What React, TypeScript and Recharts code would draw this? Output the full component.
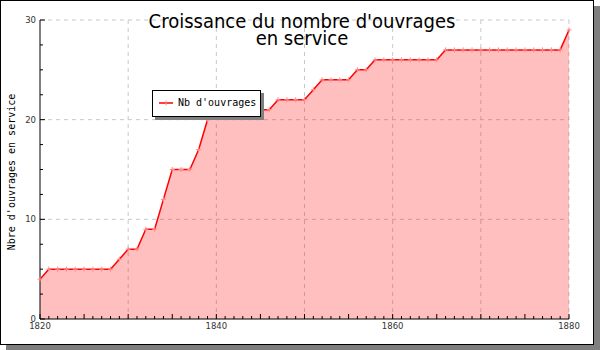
import { ComposedChart, Area, XAxis, YAxis, CartesianGrid } from 'recharts'

const START_YEAR = 1820
// nombre d'ouvrages en service, un point par an (1820 -> 1880)
const counts = [
  4, 5, 5, 5, 5, 5, 5, 5, 5, 6,
  7, 7, 9, 9, 12, 15, 15, 15, 17, 20,
  21, 21, 21, 21, 21, 21, 21, 22, 22, 22,
  22, 23, 24, 24, 24, 24, 25, 25, 26, 26,
  26, 26, 26, 26, 26, 26, 27, 27, 27, 27,
  27, 27, 27, 27, 27, 27, 27, 27, 27, 27,
  29,
]
const years = counts.map((_, i) => START_YEAR + i)

const X_LABELS = [1820, 1840, 1860, 1880]
const X_GRID = [1830, 1840, 1850, 1860, 1870, 1880]
const Y_TICKS = [0, 2.5, 5, 7.5, 10, 12.5, 15, 17.5, 20, 22.5, 25, 27.5, 30]
const Y_LABELS = [0, 10, 20, 30]
const Y_GRID = [10, 20, 30]

const TITLE = ["Croissance du nombre d'ouvrages", 'en service']
const Y_TITLE = "Nbre d'ouvrages en service"
const SERIES_NAME = "Nb d'ouvrages"

const data = years.map((year, i) => ({ year, count: counts[i] }))

const MONO = '"DejaVu Sans Mono", monospace'
const SANS = '"DejaVu Sans", sans-serif'

function PlusDot(props: any) {
  const { cx, cy, index } = props
  if (cx == null || cy == null) return <g key={`d-${index}`} />
  return (
    <g key={`d-${index}`} stroke="#ff8a8a" strokeWidth={1}>
      <line x1={cx - 2.5} y1={cy} x2={cx + 2.5} y2={cy} />
      <line x1={cx} y1={cy - 2.5} x2={cx} y2={cy + 2.5} />
    </g>
  )
}

function XTick(props: any) {
  const { x, y, payload } = props
  const v = payload.value
  const len = v % 10 === 0 ? 5 : v % 5 === 0 ? 5 : 3
  return (
    <g>
      <line x1={x} y1={y} x2={x} y2={y - len} stroke="#000" />
      {X_LABELS.includes(v) && (
        <text x={x} y={y + 10} textAnchor="middle" fontSize={8.5} fontFamily={SANS} fill="#333">
          {v}
        </text>
      )}
    </g>
  )
}

function YTick(props: any) {
  const { x, y, payload } = props
  const v = payload.value
  const len = v % 10 === 0 ? 5 : 3
  return (
    <g>
      <line x1={x} y1={y} x2={x + len} y2={y} stroke="#000" />
      {Y_LABELS.includes(v) && (
        <text x={x - 4} y={y + 3} textAnchor="end" fontSize={8.5} fontFamily={SANS} fill="#333">
          {v}
        </text>
      )}
    </g>
  )
}

export default function App() {
  return (
    <div style={{ position: 'absolute', left: 0, top: 0, width: 600, height: 350 }}>
      <div
        style={{
          position: 'absolute',
          left: 0,
          top: 0,
          width: 594,
          height: 345,
          boxSizing: 'border-box',
          border: '1px solid #000',
          background: '#fff',
          boxShadow: '6px 6px 0 #7f7f7f',
        }}
      />
      <div style={{ position: 'absolute', left: 0, top: 0 }}>
        <ComposedChart
          width={600}
          height={350}
          data={data}
          margin={{ top: 20, right: 31, bottom: 0, left: 0 }}
        >
          <CartesianGrid
            stroke="#c8c8c8"
            strokeDasharray="4 4"
            horizontalValues={Y_GRID}
            verticalValues={X_GRID}
          />
          <Area
            type="linear"
            dataKey="count"
            name={SERIES_NAME}
            stroke="#ff0000"
            strokeWidth={1.5}
            fill="#ff0000"
            fillOpacity={0.25}
            dot={PlusDot}
            activeDot={false}
            isAnimationActive={false}
          />
          <XAxis
            dataKey="year"
            type="number"
            domain={[1820, 1880]}
            ticks={years}
            interval={0}
            height={31}
            tickSize={0}
            tickMargin={0}
            tickLine={false}
            axisLine={{ stroke: '#000' }}
            tick={<XTick />}
          />
          <YAxis
            type="number"
            domain={[0, 30]}
            ticks={Y_TICKS}
            interval={0}
            width={40}
            tickSize={0}
            tickMargin={0}
            tickLine={false}
            axisLine={{ stroke: '#000' }}
            tick={<YTick />}
            label={{
              content: () => (
                <text
                  x={11}
                  y={172}
                  transform="rotate(-90 11 172)"
                  textAnchor="middle"
                  dominantBaseline="central"
                  fontSize={10}
                  fontFamily={MONO}
                  fill="#000"
                >
                  {Y_TITLE}
                </text>
              ),
            }}
          />
          <text
            x={302}
            y={28}
            textAnchor="middle"
            fontSize={20}
            fontFamily='"DejaVu Sans Condensed", "DejaVu Sans", sans-serif'
            fontStretch="condensed"
            fill="#000"
          >
            {TITLE[0]}
          </text>
          <text
            x={302}
            y={45}
            textAnchor="middle"
            fontSize={20}
            fontFamily='"DejaVu Sans Condensed", "DejaVu Sans", sans-serif'
            fontStretch="condensed"
            fill="#000"
          >
            {TITLE[1]}
          </text>
        </ComposedChart>
      </div>
      <div
        style={{
          position: 'absolute',
          left: 152,
          top: 90,
          width: 109,
          height: 27,
          boxSizing: 'border-box',
          border: '1px solid #000',
          background: '#fff',
          boxShadow: '3px 3px 0 #7f7f7f',
        }}
      >
        <svg width={20} height={25} style={{ position: 'absolute', left: 4, top: 0 }}>
          <line x1={2} y1={12} x2={16} y2={12} stroke="#ff0000" strokeWidth={1.5} />
          <line x1={9} y1={9.5} x2={9} y2={14.5} stroke="#ff8a8a" />
        </svg>
        <span
          style={{
            position: 'absolute',
            left: 25,
            top: 5,
            fontFamily: MONO,
            fontSize: 10,
            lineHeight: '14px',
            whiteSpace: 'nowrap',
          }}
        >
          {SERIES_NAME}
        </span>
      </div>
    </div>
  )
}
